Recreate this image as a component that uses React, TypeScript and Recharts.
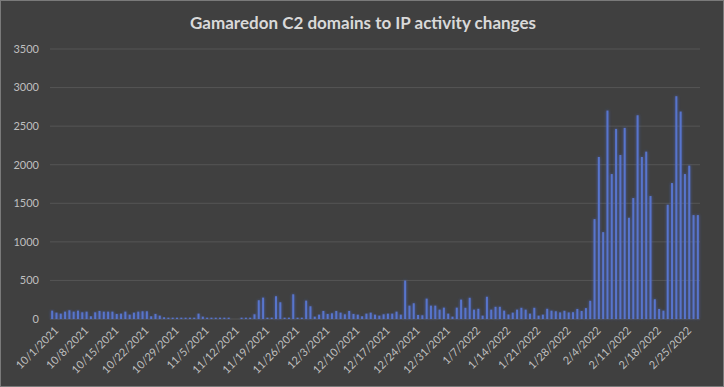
import * as React from 'react';
import { BarChart, Bar, XAxis, YAxis, CartesianGrid } from 'recharts';

// daily counts, 10/1/2021 .. 2/28/2022
const START_DATE = '2021-10-01';

const octValues = [
  108, 82, 69, 95, 113, 95, 108, 87, 95, 35, 87, 104, 95, 95, 95, 65, 69, 95, 56, 82, 95, 100, 100, 35, 65, 43, 22, 17,
  17, 17, 17,
];
const novValues = [
  17, 17, 17, 69, 30, 17, 17, 17, 17, 17, 17, 0, 0, 17, 17, 17, 61, 243, 277, 17, 17, 295, 217, 17, 17, 320, 17, 17, 238,
  165,
];
const decValues = [
  30, 56, 104, 65, 74, 104, 82, 61, 104, 65, 56, 35, 69, 82, 56, 43, 61, 69, 69, 95, 56, 498, 173, 204, 52, 48, 264, 173,
  173, 121, 147,
];
const janValues = [
  69, 30, 147, 251, 145, 275, 121, 132, 43, 288, 121, 158, 158, 108, 58, 82, 121, 145, 121, 69, 145, 43, 56, 132, 108,
  100, 85, 106, 85, 88, 130,
];
const febValues = [
  104, 141, 236, 1295, 2100, 1126, 2702, 1879, 2464, 2126, 2477, 1312, 1568, 2641, 2100, 2169, 1594, 256, 130, 108, 1481,
  1762, 2888, 2689, 1879, 1988, 1347, 1347,
];

const values = [...octValues, ...novValues, ...decValues, ...janValues, ...febValues];

const yTicks = [0, 500, 1000, 1500, 2000, 2500, 3000, 3500];

const fmtDate = (d: Date) => `${d.getUTCMonth() + 1}/${d.getUTCDate()}/${d.getUTCFullYear()}`;

const data = values.map((v, i) => {
  const d = new Date(START_DATE + 'T00:00:00Z');
  d.setUTCDate(d.getUTCDate() + i);
  return { date: fmtDate(d), count: v };
});

const FONT = 'Lato, "Open Sans", sans-serif';

const DateTick = (props: any) => {
  const { x, y, payload } = props;
  return (
    <g transform={`translate(${x},${y})`}>
      <text
        transform="rotate(-45)"
        textAnchor="end"
        dy={8}
        dx={2}
        fill="#bfbfbf"
        fontSize={11}
        fontFamily={FONT}
        style={{ WebkitFontSmoothing: 'antialiased' } as any}
      >
        {payload.value}
      </text>
    </g>
  );
};

const GlowBar = (props: any) => {
  const { x, y, width, height } = props;
  if (!height || height <= 0) return null;
  return <rect x={x} y={y} width={width} height={height} fill="#5874cc" filter="url(#barGlow)" />;
};

export default function App() {
  return (
    <div
      style={{
        position: 'fixed',
        left: 0,
        top: 0,
        width: 724,
        height: 387,
        boxSizing: 'border-box',
        background: '#404040',
        border: '1px solid #7a7a7a',
      }}
    >
      <div
        style={{
          position: 'absolute',
          left: 0,
          top: 11,
          width: 724,
          textAlign: 'center',
          color: '#d9d9d9',
          fontFamily: FONT,
          fontWeight: 700,
          fontSize: 17,
        }}
      >
        Gamaredon C2 domains to IP activity changes
      </div>
      <div style={{ position: 'absolute', left: -1, top: -1 }}>
        <BarChart
          width={724}
          height={387}
          data={data}
          margin={{ top: 49, right: 24, left: 0, bottom: 0 }}
          barCategoryGap="27%"
        >
          <defs>
            <filter id="barGlow" x="-300%" y="-10%" width="700%" height="120%">
              <feGaussianBlur in="SourceAlpha" stdDeviation="1.4" result="blur" />
              <feFlood floodColor="#4a6ad8" floodOpacity="0.7" />
              <feComposite in2="blur" operator="in" result="glow" />
              <feMerge>
                <feMergeNode in="glow" />
                <feMergeNode in="SourceGraphic" />
              </feMerge>
            </filter>
          </defs>
          <CartesianGrid vertical={false} stroke="#555555" strokeWidth={1} />
          <XAxis
            dataKey="date"
            interval={6}
            tickLine={false}
            axisLine={false}
            height={68}
            tick={<DateTick />}
          />
          <YAxis
            width={50}
            domain={[0, 3500]}
            ticks={yTicks}
            tickLine={false}
            axisLine={false}
            tickMargin={5}
            tick={{ fill: '#bfbfbf', fontSize: 11, fontFamily: FONT }}
          />
          <Bar dataKey="count" isAnimationActive={false} shape={<GlowBar />} />
        </BarChart>
      </div>
    </div>
  );
}
